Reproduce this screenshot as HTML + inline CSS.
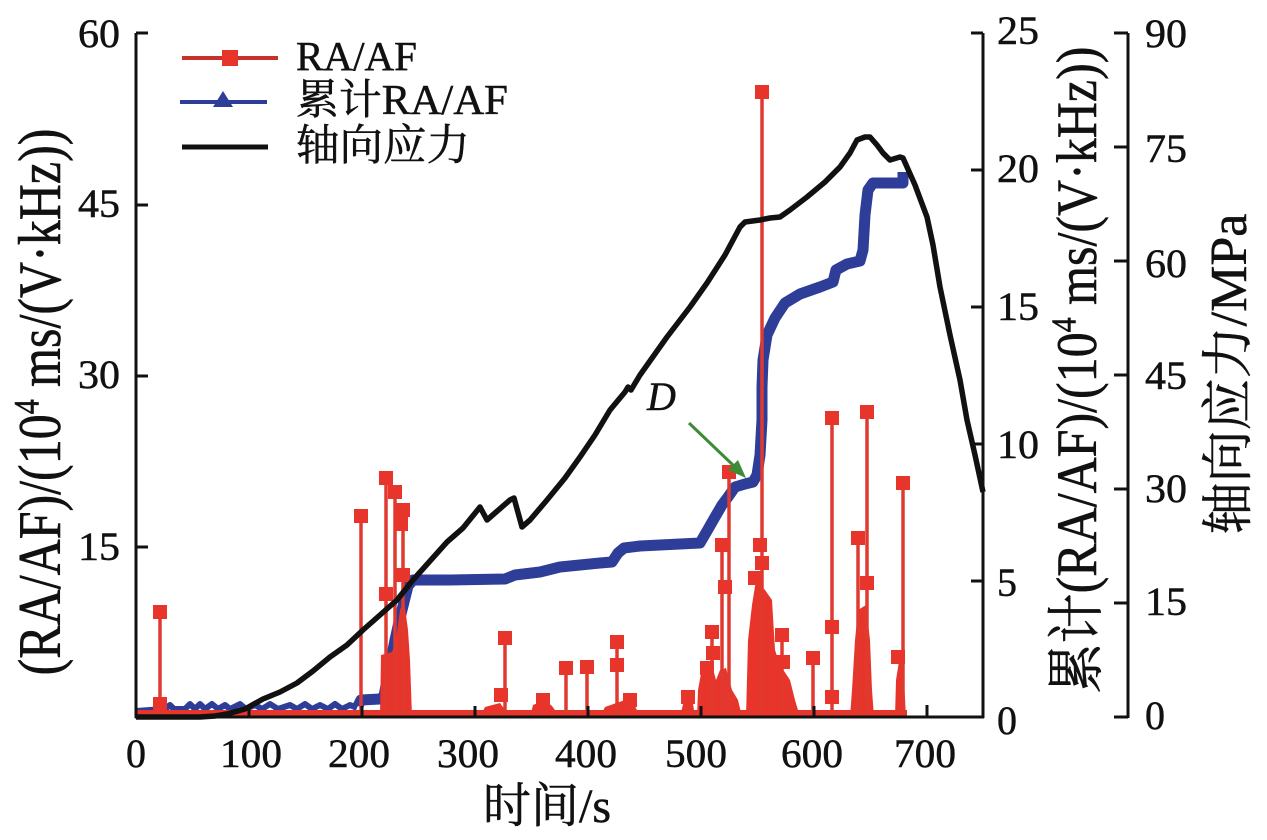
<!DOCTYPE html>
<html><head><meta charset="utf-8"><style>
html,body{margin:0;padding:0;background:#fff;}
svg{display:block;}
text{font-family:"Liberation Serif","Noto Serif CJK SC","Noto Sans CJK SC",serif;fill:#111;stroke:#111;stroke-width:0.5;}
</style></head><body>
<svg width="1267" height="840" viewBox="0 0 1267 840" xmlns="http://www.w3.org/2000/svg">
<rect width="1267" height="840" fill="#fff"/>

<!-- blue cumulative -->
<g fill="none" stroke="#2e3d98" stroke-linejoin="round">
<polyline stroke-width="6" points="136,711 150,710 165,709 170,705 174,709 185,709 190,704 195,709 200,704 205,709 212,704 218,709 225,705 230,709 240,704 246,709 255,705 262,709 270,704 278,709 290,705 297,709 305,704 312,709 320,705 328,709 335,704 342,709 350,705 357,708"/>
<polyline stroke-width="11" points="358,706 361,700 380,699 384,696 387,680 391,660 395,640 399,622 404,602 408,586 413,580 450,580 505,579 515,575 540,572 560,567 600,563 612,562 618,553 624,548 640,546 700,543 707,531 715,517 722,505 728,497 735,487 745,484 753,482 757,475 760,455 762,420 762,387 763,360 767,335 775,318 785,303 800,294 820,287 833,282 836,270 847,264 860,261 863,250 865,215 868,190 873,183 903,183 903,172"/>
</g>

<!-- red base band and clusters -->
<g fill="#e8352b">
<rect x="136" y="710" width="771" height="7"/>
<polygon points="380,717 381,655 392,652 396,640 400,610 404,600 408,630 410,660 412,717"/>
<polygon points="697,717 698,690 702,668 712,665 716,680 720,670 726,668 732,690 738,700 742,717"/>
<polygon points="746,717 748,640 752,605 756,580 765,590 772,600 775,650 780,665 790,680 795,700 800,717"/>
<polygon points="850,717 852,690 855,640 858,610 866,605 870,640 872,690 874,717"/>
<polygon points="895,717 896,680 900,655 904,680 906,717"/>
<polygon points="530,717 533,705 545,700 552,706 560,717"/>
<polygon points="600,717 605,707 625,700 635,706 640,717"/>
<polygon points="680,717 684,700 692,697 695,717"/>
<polygon points="480,717 485,707 500,703 510,717"/>
</g>
<g stroke="#e03a30" stroke-width="3.5" fill="none">
<line x1="160" y1="717" x2="160" y2="612"/>
<line x1="361" y1="717" x2="361" y2="516"/>
<line x1="386" y1="717" x2="386" y2="478"/>
<line x1="395" y1="717" x2="395" y2="492"/>
<line x1="403" y1="717" x2="403" y2="510"/>
<line x1="505" y1="717" x2="505" y2="638"/>
<line x1="566" y1="717" x2="566" y2="668"/>
<line x1="587" y1="717" x2="587" y2="667"/>
<line x1="617" y1="717" x2="617" y2="642"/>
<line x1="712" y1="717" x2="712" y2="632"/>
<line x1="722" y1="717" x2="722" y2="545"/>
<line x1="729" y1="717" x2="729" y2="472"/>
<line x1="762" y1="717" x2="762" y2="92"/>
<line x1="782" y1="717" x2="782" y2="635"/>
<line x1="813" y1="717" x2="813" y2="658"/>
<line x1="832" y1="717" x2="832" y2="418"/>
<line x1="858" y1="717" x2="858" y2="538"/>
<line x1="867" y1="717" x2="867" y2="412"/>
<line x1="903" y1="717" x2="903" y2="483"/>
</g>
<g fill="#e8352b">
<rect x="153" y="605" width="14" height="14"/><rect x="153" y="697" width="14" height="14"/>
<rect x="354" y="509" width="14" height="14"/>
<rect x="379" y="471" width="14" height="14"/><rect x="379" y="587" width="14" height="14"/>
<rect x="388" y="485" width="14" height="14"/>
<rect x="396" y="503" width="14" height="14"/><rect x="394" y="517" width="14" height="14"/><rect x="396" y="568" width="14" height="14"/>
<rect x="498" y="631" width="14" height="14"/><rect x="494" y="688" width="14" height="14"/>
<rect x="559" y="661" width="14" height="14"/>
<rect x="580" y="660" width="14" height="14"/>
<rect x="610" y="635" width="14" height="14"/><rect x="610" y="658" width="14" height="14"/>
<rect x="623" y="693" width="14" height="14"/><rect x="536" y="693" width="14" height="14"/>
<rect x="681" y="690" width="14" height="14"/>
<rect x="705" y="625" width="14" height="14"/><rect x="706" y="646" width="14" height="14"/><rect x="700" y="661" width="14" height="14"/>
<rect x="715" y="538" width="14" height="14"/><rect x="718" y="580" width="14" height="14"/>
<rect x="722" y="465" width="14" height="14"/>
<rect x="755" y="85" width="14" height="14"/><rect x="753" y="538" width="14" height="14"/><rect x="755" y="556" width="14" height="14"/>
<rect x="748" y="571" width="14" height="14"/>
<rect x="775" y="628" width="14" height="14"/><rect x="776" y="655" width="14" height="14"/>
<rect x="806" y="651" width="14" height="14"/>
<rect x="825" y="411" width="14" height="14"/><rect x="825" y="620" width="14" height="14"/><rect x="825" y="690" width="14" height="14"/>
<rect x="851" y="531" width="14" height="14"/>
<rect x="860" y="405" width="14" height="14"/><rect x="860" y="576" width="14" height="14"/>
<rect x="896" y="476" width="14" height="14"/><rect x="891" y="650" width="14" height="14"/>
</g>

<!-- black stress -->
<polyline fill="none" stroke="#111" stroke-width="5.5" stroke-linejoin="round" points="136,717 200,717 215,716 227,714 245,709 263,699 280,692 297,683 313,671 330,657 347,645 363,630 380,615 397,600 413,580 430,561 447,542 463,528 480,507 487,520 495,513 510,500 514,498 522,527 530,520 547,500 565,478 580,457 595,435 610,410 625,392 628,387 631,390 640,375 667,337 690,307 707,283 725,255 740,227 745,222 760,220 770,218 780,217 790,210 807,197 825,182 840,167 850,153 857,140 865,137 870,137 877,145 883,153 890,160 900,157 903,158 915,185 927,217 933,245 940,287 950,335 960,380 967,420 975,455 983,492"/>

<!-- D annotation -->
<text x="647" y="410" font-size="40" font-style="italic">D</text>
<line x1="689" y1="423" x2="735" y2="467" stroke="#3d8b37" stroke-width="3"/>
<polygon points="746,478 728,470 738,460" fill="#3d8b37"/>

<!-- axes -->
<g stroke="#111" stroke-width="3" fill="none">
<line x1="136" y1="33" x2="136" y2="718"/>
<line x1="135" y1="717" x2="984" y2="717"/>
<line x1="983" y1="33" x2="983" y2="718"/>
<line x1="1128" y1="33" x2="1128" y2="718"/>
<line x1="136" y1="33" x2="148" y2="33"/><line x1="136" y1="205" x2="148" y2="205"/><line x1="136" y1="376" x2="148" y2="376"/><line x1="136" y1="547" x2="148" y2="547"/>
<line x1="927" y1="717" x2="927" y2="705"/><line x1="814" y1="717" x2="814" y2="706"/><line x1="701" y1="717" x2="701" y2="706"/><line x1="588" y1="717" x2="588" y2="706"/><line x1="475" y1="717" x2="475" y2="706"/><line x1="362" y1="717" x2="362" y2="706"/><line x1="249" y1="717" x2="249" y2="706"/>
<line x1="971" y1="33" x2="983" y2="33"/><line x1="971" y1="170" x2="983" y2="170"/><line x1="971" y1="307" x2="983" y2="307"/><line x1="971" y1="444" x2="983" y2="444"/><line x1="971" y1="581" x2="983" y2="581"/><line x1="971" y1="717" x2="983" y2="717"/>
<line x1="1114" y1="33" x2="1128" y2="33"/><line x1="1114" y1="147" x2="1128" y2="147"/><line x1="1114" y1="261" x2="1128" y2="261"/><line x1="1114" y1="375" x2="1128" y2="375"/><line x1="1114" y1="489" x2="1128" y2="489"/><line x1="1114" y1="603" x2="1128" y2="603"/><line x1="1114" y1="717" x2="1128" y2="717"/>
</g>

<!-- tick labels -->
<g font-size="40">
<text x="120" y="47" text-anchor="end" textLength="42" lengthAdjust="spacingAndGlyphs">60</text>
<text x="120" y="217" text-anchor="end" textLength="42" lengthAdjust="spacingAndGlyphs">45</text>
<text x="120" y="388" text-anchor="end" textLength="42" lengthAdjust="spacingAndGlyphs">30</text>
<text x="120" y="560" text-anchor="end" textLength="42" lengthAdjust="spacingAndGlyphs">15</text>

<text x="136" y="767" text-anchor="middle">0</text>
<text x="251" y="767" text-anchor="middle" textLength="62" lengthAdjust="spacingAndGlyphs">100</text>
<text x="359" y="767" text-anchor="middle" textLength="62" lengthAdjust="spacingAndGlyphs">200</text>
<text x="468" y="767" text-anchor="middle" textLength="62" lengthAdjust="spacingAndGlyphs">300</text>
<text x="586" y="767" text-anchor="middle" textLength="62" lengthAdjust="spacingAndGlyphs">400</text>
<text x="696" y="767" text-anchor="middle" textLength="62" lengthAdjust="spacingAndGlyphs">500</text>
<text x="812" y="767" text-anchor="middle" textLength="62" lengthAdjust="spacingAndGlyphs">600</text>
<text x="925" y="767" text-anchor="middle" textLength="62" lengthAdjust="spacingAndGlyphs">700</text>

<text x="997" y="44" textLength="42" lengthAdjust="spacingAndGlyphs">25</text>
<text x="997" y="182" textLength="42" lengthAdjust="spacingAndGlyphs">20</text>
<text x="997" y="320" textLength="42" lengthAdjust="spacingAndGlyphs">15</text>
<text x="997" y="458" textLength="42" lengthAdjust="spacingAndGlyphs">10</text>
<text x="997" y="596">5</text>
<text x="997" y="734">0</text>

<text x="1145" y="47" textLength="42" lengthAdjust="spacingAndGlyphs">90</text>
<text x="1145" y="162" textLength="42" lengthAdjust="spacingAndGlyphs">75</text>
<text x="1145" y="277" textLength="42" lengthAdjust="spacingAndGlyphs">60</text>
<text x="1145" y="389" textLength="42" lengthAdjust="spacingAndGlyphs">45</text>
<text x="1145" y="502" textLength="42" lengthAdjust="spacingAndGlyphs">30</text>
<text x="1145" y="615" textLength="42" lengthAdjust="spacingAndGlyphs">15</text>
<text x="1145" y="729">0</text>
</g>

<!-- axis titles -->
<text x="483" y="822" font-size="48">时间/s</text>

<text transform="translate(60,402) rotate(-90) scale(1,1.2)" text-anchor="middle" font-size="50">(RA/AF)/(10<tspan font-size="30" dy="-18">4</tspan><tspan dy="18"> ms/(V·kHz))</tspan></text>

<text transform="translate(1096,370) rotate(-90) scale(1,1.15)" text-anchor="middle" font-size="50">累计(RA/AF)/(10<tspan font-size="30" dy="-18">4</tspan><tspan dy="18"> ms/(V·kHz))</tspan></text>

<text transform="translate(1246,374) rotate(-90)" text-anchor="middle" font-size="52">轴向应力/MPa</text>

<!-- legend -->
<line x1="182" y1="58" x2="278" y2="58" stroke="#c8302a" stroke-width="4"/>
<rect x="222" y="50" width="16" height="16" fill="#e8352b"/>
<text x="296" y="70" font-size="41" textLength="121" lengthAdjust="spacingAndGlyphs">RA/AF</text>

<line x1="180" y1="102" x2="267" y2="102" stroke="#2e3d98" stroke-width="4"/>
<polygon points="223,91 233,107 213,107" fill="#2e3d98"/>
<text x="296" y="114" font-size="42" textLength="212" lengthAdjust="spacingAndGlyphs">累计RA/AF</text>

<line x1="182" y1="147" x2="268" y2="147" stroke="#111" stroke-width="5"/>
<text x="296" y="160" font-size="43" textLength="174" lengthAdjust="spacingAndGlyphs">轴向应力</text>
</svg>
</body></html>
